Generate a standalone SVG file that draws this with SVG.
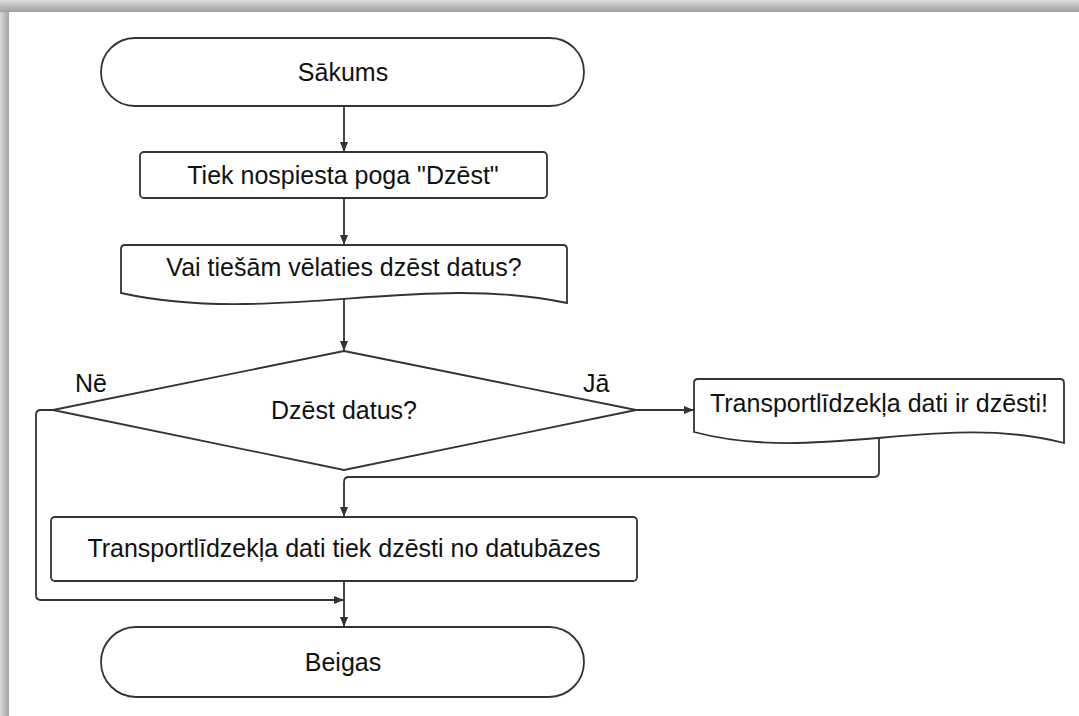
<svg xmlns="http://www.w3.org/2000/svg" width="1079" height="716" viewBox="0 0 1079 716">
<defs>
<linearGradient id="gt" x1="0" y1="0" x2="0" y2="1"><stop offset="0" stop-color="#dcdcdc"/><stop offset="1" stop-color="#a0a0a0"/></linearGradient>
<linearGradient id="gl" x1="0" y1="0" x2="1" y2="0"><stop offset="0" stop-color="#d8d8d8"/><stop offset="1" stop-color="#a4a4a4"/></linearGradient>
<marker id="arr" viewBox="0 0 10 8" refX="10" refY="4" markerWidth="10" markerHeight="8" markerUnits="userSpaceOnUse" orient="auto"><path d="M0,0 L10,4 L0,8 Z" fill="#333"/></marker>
<style>
.s{fill:#fff;stroke:#333;stroke-width:1.8}
.t{font-family:"Liberation Sans",Arial,sans-serif;font-size:25px;fill:#111;text-anchor:middle}
.l{font-family:"Liberation Sans",Arial,sans-serif;font-size:25px;fill:#111}
.c{fill:none;stroke:#333;stroke-width:1.8}
</style>
</defs>
<rect x="0" y="0" width="1079" height="716" fill="#fff"/>
<rect x="0" y="12" width="9" height="704" fill="url(#gl)"/>
<rect x="0" y="0" width="1079" height="12" fill="url(#gt)"/>
<g id="connectors">
<path class="c" d="M344,106 L344,152" marker-end="url(#arr)"/>
<path class="c" d="M344,198 L344,245" marker-end="url(#arr)"/>
<path class="c" d="M344,297 L344,351" marker-end="url(#arr)"/>
<path class="c" d="M636,410 L694,410" marker-end="url(#arr)"/>
<path class="c" d="M879,434 L879,472 Q879,477 874,477 L349,477 Q344,477 344,482 L344,517" marker-end="url(#arr)"/>
<path class="c" d="M53,410 L41,410 Q36,410 36,415 L36,595 Q36,600 41,600 L344,600" marker-end="url(#arr)"/>
<path class="c" d="M344,581 L344,627" marker-end="url(#arr)"/>
</g>
<g id="start">
<rect class="s" x="101" y="38" width="483" height="68" rx="34" ry="34"/>
<text class="t" x="343" y="81">Sākums</text>
</g>
<g id="press">
<rect class="s" x="140" y="152" width="407" height="46" rx="4"/>
<text class="t" x="343" y="184">Tiek nospiesta poga "Dzēst"</text>
</g>
<g id="confirm">
<path class="s" d="M121,293 L121,249 Q121,245 125,245 L563,245 Q567,245 567,249 L567,303 C420,272 270,326 121,293 Z"/>
<text class="t" x="344" y="276">Vai tiešām vēlaties dzēst datus?</text>
</g>
<g id="decision">
<path class="s" d="M344,351 L636,410 L344,470 L53,410 Z"/>
<text class="t" x="344" y="419">Dzēst datus?</text>
<text class="l" x="75" y="392">Nē</text>
<text class="l" x="583" y="392">Jā</text>
</g>
<g id="deleted-msg">
<path class="s" d="M694,432 L694,383 Q694,379 698,379 L1060,379 Q1064,379 1064,383 L1064,443 C942,411 818,465 694,432 Z"/>
<text class="t" x="879" y="412">Transportlīdzekļa dati ir dzēsti!</text>
</g>
<g id="delete-db">
<rect class="s" x="51" y="517" width="586" height="64" rx="4"/>
<text class="t" x="344" y="557">Transportlīdzekļa dati tiek dzēsti no datubāzes</text>
</g>
<g id="end">
<rect class="s" x="101" y="627" width="483" height="70" rx="35" ry="35"/>
<text class="t" x="343" y="671">Beigas</text>
</g>
</svg>
